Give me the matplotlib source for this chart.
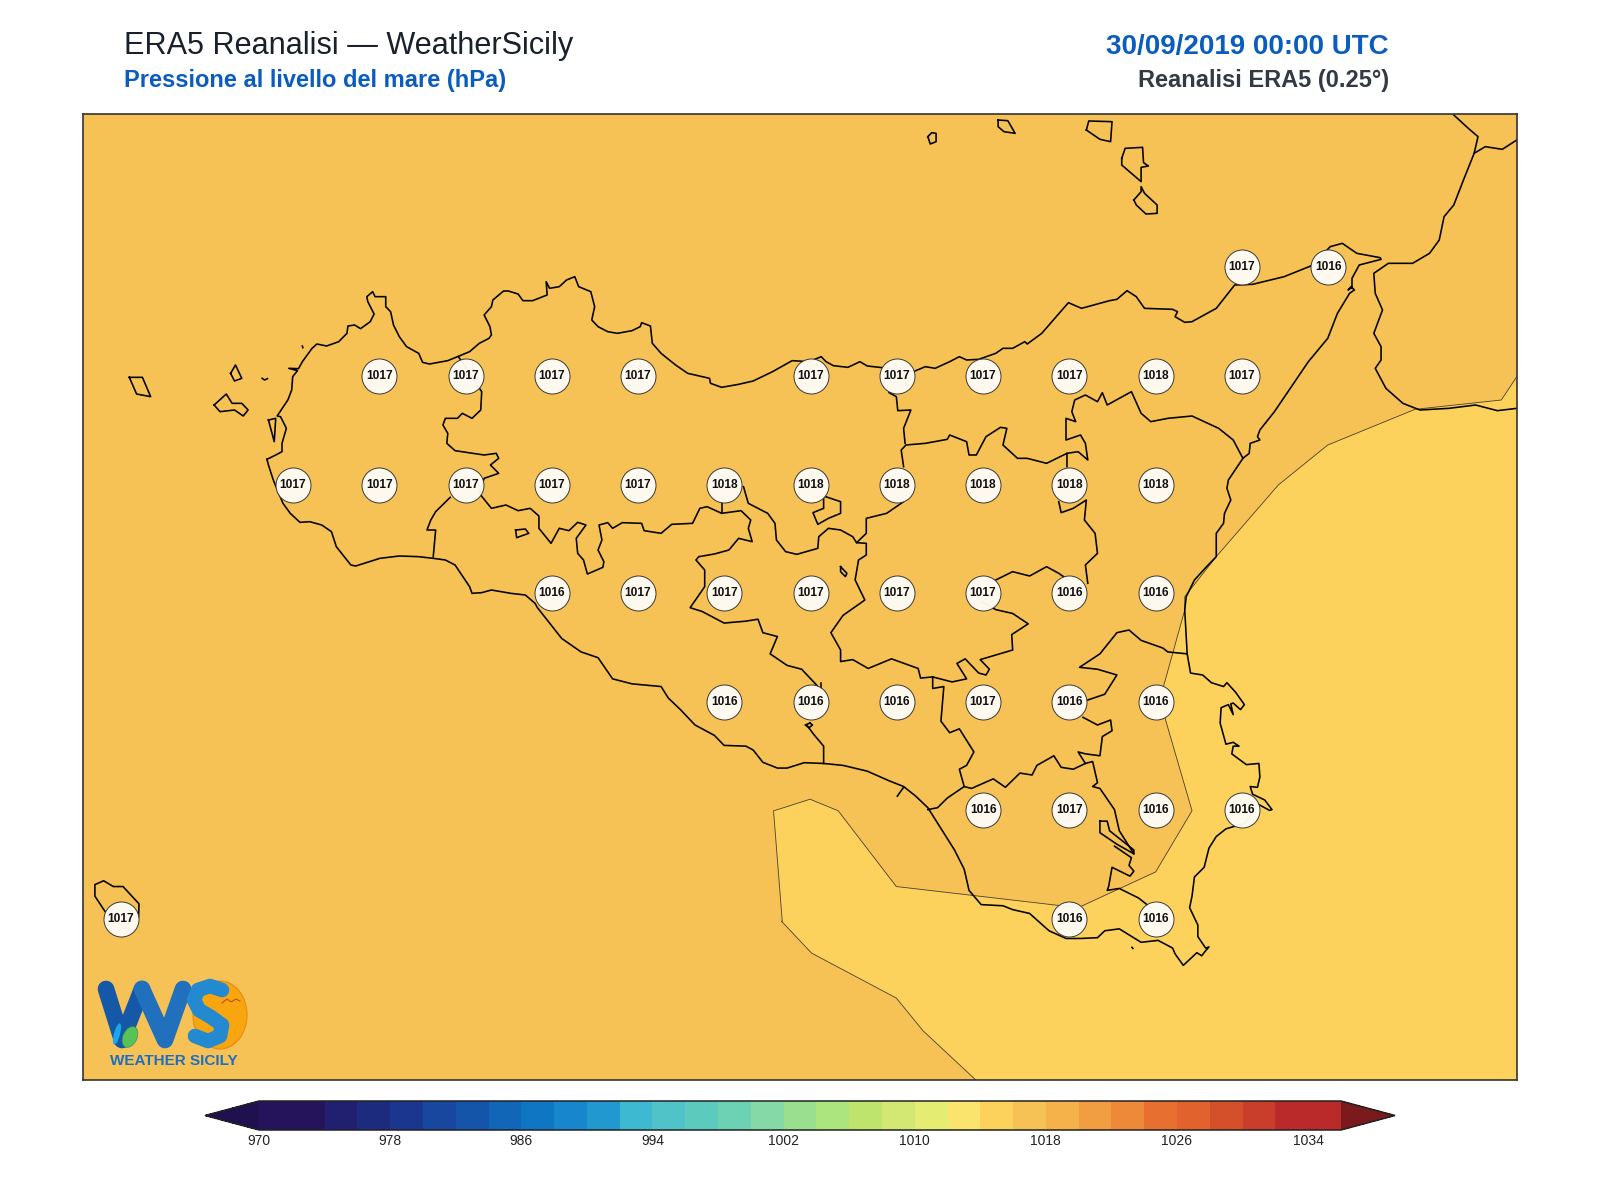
import numpy as np
import matplotlib
matplotlib.use("Agg")
import matplotlib.pyplot as plt
from matplotlib.colors import ListedColormap, BoundaryNorm
from matplotlib.cm import ScalarMappable
from matplotlib.patches import Ellipse, Polygon

plt.rcParams['font.family'] = ['Liberation Sans', 'DejaVu Sans']

# ---------- data ----------
LEVELS = list(range(970, 974, 2)) + list(range(974, 1038, 2))
CELL_COLORS = ['#25145C', '#25145C', '#211F70', '#1D2B7F', '#1A368F', '#17479F', '#1455A9', '#1166B7',
               '#0F76C4', '#1886CC', '#2199CF', '#3DBAD2', '#4FC3C8', '#5CCBBE', '#6DD2B4', '#85D9A6',
               '#99DF8F', '#ACE47D', '#BFE46E', '#D3E872', '#E4EC72', '#FBE46E', '#FCD15C', '#F6C155',
               '#F5B24B', '#F09E41', '#EC8A3A', '#E76F30', '#E1622C', '#D4502B', '#C83E2B', '#BB2A2A',
               '#BB2A2A']
UNDER_COLOR = '#1F1150'
OVER_COLOR = '#7A1A1D'
CBAR_TICKS = [970, 978, 986, 994, 1002, 1010, 1018, 1026, 1034]

BAND_BACKGROUND = 1017
BAND_EAST = 1015

ST_38_25 = ([15.25, 15.5], [1017, 1016])
ST_38_00 = ([12.75, 13.0, 13.25, 13.5, 14.0, 14.25, 14.5, 14.75, 15.0, 15.25],
            [1017, 1017, 1017, 1017, 1017, 1017, 1017, 1017, 1018, 1017])
ST_37_75 = ([12.5, 12.75, 13.0, 13.25, 13.5, 13.75, 14.0, 14.25, 14.5, 14.75, 15.0],
            [1017, 1017, 1017, 1017, 1017, 1018, 1018, 1018, 1018, 1018, 1018])
ST_37_50 = ([13.25, 13.5, 13.75, 14.0, 14.25, 14.5, 14.75, 15.0],
            [1016, 1017, 1017, 1017, 1017, 1017, 1016, 1016])
ST_37_25 = ([13.75, 14.0, 14.25, 14.5, 14.75, 15.0], [1016, 1016, 1016, 1017, 1016, 1016])
ST_37_00 = ([14.5, 14.75, 15.0, 15.25], [1016, 1017, 1016, 1016])
ST_36_75 = ([12.0, 14.75, 15.0], [1017, 1016, 1016])
STATION_ROWS = {38.25: ST_38_25, 38.0: ST_38_00, 37.75: ST_37_75, 37.5: ST_37_50,
                37.25: ST_37_25, 37.0: ST_37_00, 36.75: ST_36_75}

# Digitised outlines, in the pixel frames of the four sheets they were traced on.
SHEETS = {'A': (60, 90, 2.063, 3.0), 'B': (780, 90, 2.063, 3.0),
          'C': (60, 600, 2.063, 2.6), 'D': (780, 600, 2.063, 2.6)}

COAST_MAIN = [
 ('A', [(427,1108),(445,1095),(458,1085),(458,1060),(467,1015),(455,980),(448,978),(470,930),(478,900),(480,860),(490,842),(472,835),(492,836),(500,815),(520,775),(530,762),(550,768),(575,755),(592,730),(594,708),(608,705),(620,716),(640,695),(648,672),(635,635),(633,620),(645,605),(650,620),(672,620),(672,650),(682,665),(688,705),(700,740),(715,770),(740,790),(748,817),(762,822),(800,812),(845,785),(865,760),(885,745),(890,735),(887,710),(875,675),(890,650),(893,630),(915,603),(925,603),(945,612),(955,632),(975,632),(1005,615),(1003,575),(1010,595),(1030,590),(1045,570),(1062,560),(1070,590),(1095,605),(1103,650),(1097,690),(1110,710),(1130,725),(1150,730),(1180,722),(1197,710),(1200,698),(1218,708),(1222,760),(1240,790),(1270,825),(1295,850),(1340,865),(1342,880),(1365,892),(1400,883),(1430,873),(1470,845)]),
 ('B', [(25,812),(60,815),(85,800),(95,815),(110,827),(140,832),(165,815),(180,828),(205,832),(240,838),(275,845),(300,830),(320,835),(350,815),(370,800),(385,810),(410,808),(445,790),(460,775),(480,775),(505,755),(510,762),(540,730),(595,638),(622,655),(680,632),(695,628),(716,602),(735,620),(752,655),(810,658),(820,665),(815,680),(835,697),(850,695),(900,655),(938,585),(975,583),(1040,560),(1100,525),(1135,470),(1160,460),(1190,490),(1238,503),(1240,508),(1195,525),(1180,565),(1180,592),(1172,600),(1178,590),(1185,600),(1175,610),(1150,670),(1130,745),(1090,815),(1020,965),(990,1020),(985,1040),(990,1050),(970,1060),(968,1090),(955,1105),(925,1170),(922,1195),(930,1230),(917,1270),(915,1300),(900,1330),(900,1400),(880,1430),(855,1470),(838,1520),(835,1560)]),
 ('D', [(835,26),(840,140),(847,190),(872,195),(890,215),(915,225),(922,215),(940,240),(958,272),(950,285),(935,268),(930,270),(935,298),(925,272),(910,280),(908,320),(920,375),(935,370),(947,380),(935,380),(932,400),(962,428),(988,425),(990,460),(985,487),(970,485),(975,505),(1000,520),(1015,545),(1010,547),(985,530),(960,580),(920,595),(900,615),(885,645),(875,695),(855,720),(850,770),(845,800),(862,845),(862,875),(878,905),(885,902),(878,912),(870,925),(860,917),(832,950),(815,920),(810,905),(780,885),(745,890),(700,855),(670,860),(655,878),(620,880),(590,880),(555,860),(515,815),(480,805),(460,795),(415,792),(390,755),(380,700),(360,650),(340,610),(305,540),(280,510),(255,485),(225,470),(180,445),(130,430),(90,425),(50,423),(20,435)]),
 ('C', [(1500,437),(1480,437),(1450,422),(1430,390),(1415,380),(1370,378),(1350,352),(1310,325),(1280,285),(1255,255),(1240,225),(1215,222),(1180,218),(1155,210),(1140,205),(1110,150),(1075,135),(1035,100),(1010,60),(985,20)]),
 ('A', [(980,1540),(960,1515),(930,1510),(890,1500),(870,1508),(850,1510),(845,1490),(815,1425),(795,1410),(770,1405),(740,1400),(700,1398),(660,1405),(610,1428),(600,1425),(570,1370),(560,1325),(540,1305),(515,1295),(495,1297),(475,1270),(460,1240),(440,1170),(430,1125),(427,1108)]),
]

BOUNDARIES = [
 [('A', [(822,800),(870,905),(868,960),(850,985),(830,970),(820,985),(795,985),(790,1005),(800,1030),(798,1060),(815,1082),(875,1095),(900,1090),(905,1105),(888,1125),(905,1150),(875,1165),(865,1210),(890,1255),(920,1245),(945,1262),(970,1255),(988,1278),(988,1315),(1013,1360),(1030,1315),(1050,1322),(1068,1297),(1085,1305),(1065,1345),(1068,1390),(1080,1410),(1088,1452),(1120,1432),(1122,1415),(1110,1380),(1118,1350),(1112,1305),(1130,1298),(1140,1315),(1160,1298),(1200,1300),(1205,1322),(1240,1330),(1262,1303),(1305,1300),(1320,1255),(1335,1250),(1365,1270),(1405,1262),(1425,1290),(1420,1315),(1428,1355),(1400,1345),(1380,1380),(1350,1392),(1318,1400),(1312,1410),(1330,1440),(1330,1490)]),
  ('C', [(1300,20),(1325,30),(1370,60),(1415,55),(1440,50),(1450,85),(1480,95),(1465,140),(1500,170),(1530,180),(1560,220)]),
  ('D', [(85,235)])],
 [('A', [(805,1222),(775,1265),(765,1290),(757,1320),(775,1320),(770,1400)])],
 [('A', [(1365,1270),(1365,1240)])],
 [('A', [(1410,1190),(1420,1240),(1460,1270),(1475,1300),(1478,1350),(1497,1385),(1520,1393)]),
  ('B', [(78,1375),(80,1340),(100,1315),(125,1320),(150,1340),(158,1358),(178,1360),(178,1395),(162,1410),(155,1470),(175,1530)]),
  ('D', [(175,0),(130,40),(105,85),(125,130),(125,160),(150,155),(182,178),(230,153),(285,178),(290,203),(315,200),(355,213),(385,205),(365,165),(382,153),(410,190),(425,195),(432,180),(413,155),(480,130),(478,90),(512,62),(480,35),(445,25),(418,5)])],
 [('B', [(90,1218),(125,1235),(125,1270),(100,1285),(78,1303),(68,1268),(90,1255),(90,1218)])],
 [('B', [(255,1235),(220,1270),(178,1285),(178,1330),(158,1358)])],
 [('B', [(445,1470),(480,1445),(515,1458),(550,1430),(575,1450),(595,1470)])],
 [('B', [(575,1235),(580,1268),(605,1255),(632,1230),(628,1290),(650,1330),(655,1390),(630,1425),(635,1480)])],
 [('B', [(592,1130),(592,1090),(550,1120),(510,1105),(490,1105),(460,1065),(468,1015),(455,1012),(425,1040),(405,1095),(390,1095),(385,1055),(350,1035),(345,1048),(300,1060),(260,1065),(250,1080),(255,1130)])],
 [('B', [(258,1060),(255,1015),(270,960),(243,962),(240,920),(225,908)])],
 [('B', [(592,1090),(615,1085),(635,1110),(630,1060),(620,1035),(590,1050),(590,985),(610,995),(602,965),(608,930),(630,915),(655,935),(665,908),(675,945),(725,905),(745,970),(765,995),(800,985),(850,978),(905,1015),(935,1050),(955,1105)])],
 [('D', [(315,200),(315,230),(338,225),(332,315),(350,345),(370,335),(400,395),(385,430),(370,440),(380,485),(345,515),(325,540),(305,545)])],
 [('D', [(380,485),(395,490),(440,465),(465,487),(495,450),(520,455),(530,430),(565,405),(580,435),(605,440),(630,425),(615,395),(630,400),(660,405),(665,355),(685,340),(682,312),(655,325),(625,305)])],
 [('D', [(635,260),(670,245),(695,195),(655,180),(618,175),(660,140),(695,85),(720,78),(745,105),(790,125),(800,135),(840,140)])],
 [('D', [(630,425),(645,420),(655,475),(645,485),(660,490),(690,545),(700,600),(730,660)])],
 [('D', [(660,575),(675,575),(680,600),(730,650),(730,660),(695,635),(660,605),(660,575)])],
 [('D', [(690,640),(725,670),(720,690),(730,705),(722,718),(685,695),(678,745),(675,755),(700,750),(740,775),(765,800)])],
 [('D', [(55,325),(70,350),(90,380),(90,425)])],
 [('D', [(62,320),(52,325),(60,332),(67,325),(62,320)])],
 [('D', [(242,510),(255,487)])],
 [('D', [(85,215),(85,235)])],
 [('B', [(125,1430),(138,1450),(135,1460),(125,1445),(125,1430)])],
]

ISLANDS = [
 ('A', [(143,862),(170,862),(187,920),(158,912),(143,862)]),
 ('A', [(352,850),(362,825),(375,865),(360,873),(352,850)]),
 ('A', [(318,945),(343,912),(355,940),(375,940),(388,960),(378,978),(360,960),(330,965),(318,945)]),
 ('A', [(417,865),(422,870),(428,866)]),
 ('A', [(500,768),(501,773)]),
 ('A', [(430,990),(445,985),(442,1055),(430,990)]),
 ('A', [(940,1320),(960,1317),(967,1330),(942,1343),(940,1320)]),
 ('B', [(305,140),(313,128),(322,130),(322,155),(310,162),(305,140)]),
 ('B', [(450,90),(470,92),(485,130),(462,125),(450,110),(450,90)]),
 ('B', [(632,120),(637,93),(685,95),(682,155),(660,148),(632,120)]),
 ('B', [(705,205),(712,175),(748,172),(750,218),(760,228),(745,232),(745,275),(725,250),(705,225),(705,205)]),
 ('B', [(730,330),(745,305),(745,290),(752,310),(778,345),(778,370),(755,372),(735,345),(730,330)]),
 ('C', [(93,810),(72,770),(72,740),(90,730),(110,745),(130,745),(163,790),(162,825)]),
 ('D', [(726,903),(728,906)]),
]

CALABRIA = [
 [('B', [(1390,75),(1420,115),(1440,140),(1432,190),(1410,270),(1390,345),(1370,380),(1360,450),(1340,490),(1305,520),(1285,520),(1255,520),(1225,550),(1228,610),(1243,660),(1225,730),(1240,770),(1240,810),(1228,835),(1250,895),(1285,940),(1320,960),(1380,955),(1435,945),(1480,962),(1520,955)])],
 [('B', [(1432,190),(1455,170),(1490,178),(1520,150)])],
]

EAST_BAND_EDGE = [
 ('B', [(1520,860),(1488,930),(1310,958),(1130,1065),(1028,1185),(900,1400),(835,1520)]),
 ('D', [(835,26),(790,230),(795,310),(850,548),(775,707),(615,800),(240,745),(120,548),(62,518),(0,543)]),
 ('C', [(1472,548),(1490,835)]),
 ('D', [(3,835),(65,918),(240,1035),(295,1120),(410,1255)]),
]

# map extent
LON_PER_PX = 1 / 345.0
LAT_PER_PX = 1 / 434.4
def px_to_lon(px): return 12.75 + (px - 379.3) * LON_PER_PX
def py_to_lat(py): return 38.0 - (py - 375.9) * LAT_PER_PX

def to_lonlat(chain):
    out = []
    for sheet, pts in chain:
        x0, y0, sx, sy = SHEETS[sheet]
        for X, Y in pts:
            out.append((px_to_lon(x0 + X / sx), py_to_lat(y0 + Y / sy)))
    return np.array(out)

# ---------- figure ----------
W, H = 1600, 1200
fig = plt.figure(figsize=(W / 100, H / 100), dpi=100, facecolor='white')
FL, FR, FT, FB = 83, 1517, 114, 1080
ax = fig.add_axes([FL / W, 1 - FB / H, (FR - FL) / W, (FB - FT) / H])
ax.set_xlim(px_to_lon(FL), px_to_lon(FR))
ax.set_ylim(py_to_lat(FB), py_to_lat(FT))
ax.set_xticks([]); ax.set_yticks([])
for s in ax.spines.values():
    s.set_linewidth(1.2); s.set_color('#333333'); s.set_zorder(20)

cmap = ListedColormap(CELL_COLORS)
cmap.set_under(UNDER_COLOR); cmap.set_over(OVER_COLOR)
norm = BoundaryNorm(LEVELS, cmap.N)
ax.set_facecolor(cmap(norm(BAND_BACKGROUND)))

edge = to_lonlat(EAST_BAND_EDGE)
xmax, ymin = ax.get_xlim()[1], ax.get_ylim()[0]
poly = np.vstack([edge, [[xmax, ymin]]])
ax.add_patch(Polygon(poly, closed=True, facecolor=cmap(norm(BAND_EAST)), edgecolor='none', zorder=1))
ax.plot(edge[:, 0], edge[:, 1], color='#4a4030', lw=0.6, zorder=2)

lkw = dict(color='black', lw=1.15, zorder=3, solid_joinstyle='round')
c = to_lonlat(COAST_MAIN); ax.plot(c[:, 0], c[:, 1], **lkw)
for chain in BOUNDARIES + CALABRIA:
    c = to_lonlat(chain); ax.plot(c[:, 0], c[:, 1], **lkw)
for isl in ISLANDS:
    c = to_lonlat([isl]); ax.plot(c[:, 0], c[:, 1], **lkw)

for lat, (lons, vals) in STATION_ROWS.items():
    ax.scatter(lons, [lat] * len(lons), s=635, facecolor='#FFFCF6', edgecolor='#333333',
               linewidth=0.7, alpha=0.96, zorder=6)
    for lon, v in zip(lons, vals):
        ax.text(lon, lat, str(v), ha='center', va='center', fontsize=8.6, fontweight='bold',
                color='#111111', zorder=7)

# ---------- colour bar ----------
cax = fig.add_axes([205 / W, 1 - 1130 / H, (1395 - 205) / W, 29 / H])
cb = fig.colorbar(ScalarMappable(norm=norm, cmap=cmap), cax=cax, orientation='horizontal',
                  extend='both', extendfrac=0.05, ticks=CBAR_TICKS, spacing='proportional',
                  drawedges=False)
cb.ax.minorticks_off()
cb.ax.tick_params(which='both', length=0, pad=3, labelsize=10, labelcolor='#222222')
cb.outline.set_linewidth(1.1); cb.outline.set_edgecolor('#222222')

# ---------- titles ----------
def ftext(px, py, s, **k):
    fig.text(px / W, 1 - py / H, s, **k)
ftext(124, 46, 'ERA5 Reanalisi \u2014 WeatherSicily', fontsize=22.1, color='#1a202c', va='center', ha='left')
ftext(124, 81, 'Pressione al livello del mare (hPa)', fontsize=17, fontweight='bold', color='#0B5CBF', va='center', ha='left')
ftext(1389, 47, '30/09/2019 00:00 UTC', fontsize=20, fontweight='bold', color='#0B5CBF', va='center', ha='right')
ftext(1389, 81, 'Reanalisi ERA5 (0.25\u00b0)', fontsize=17, fontweight='bold', color='#333a45', va='center', ha='right')

# ---------- logo (a picture in the reference: drawn with strokes) ----------
LOGO_W_LEFT = ([106, 122, 142], [989, 1040, 989])
LOGO_W_RIGHT = ([142, 165, 183], [989, 1040, 989])
LOGO_S = ([222, 210, 198, 194, 199, 211, 222, 220, 208, 195], [990, 986, 990, 1000, 1010, 1017, 1025, 1036, 1041, 1036])
LOGO_BIRD = ([222, 227, 231, 236, 240], [1003, 999, 1002, 999, 1001])

lg = fig.add_axes([0, 0, 1, 1], facecolor='none')
lg.set_xlim(0, W); lg.set_ylim(H, 0); lg.axis('off'); lg.set_zorder(10)
lg.add_patch(Ellipse((220, 1015), 54, 68, facecolor='#F7A60F', edgecolor='#E98A10', lw=0.8, zorder=1))
stroke = dict(solid_capstyle='round', solid_joinstyle='round', zorder=3)
lg.plot(*LOGO_W_LEFT, color='#1658A8', lw=12, **stroke)
lg.plot(*LOGO_W_RIGHT, color='#2070BE', lw=12, **stroke)
lg.plot(*LOGO_S, color='#2389D0', lw=10.5, **stroke)
lg.plot(*LOGO_BIRD, color='#C0501A', lw=0.8, zorder=4)
lg.add_patch(Ellipse((130, 1037), 14, 22, angle=25, facecolor='#57C255', edgecolor='#2E8B57', lw=0.4, zorder=5))
lg.add_patch(Ellipse((117, 1034), 6, 22, angle=15, facecolor='#1BA8E8', edgecolor='none', zorder=4))
lg.text(173.5, 1061, 'WEATHER SICILY', fontsize=11, fontweight='bold', color='#1F6FC0', ha='center', va='center')

fig.savefig('out.png', dpi=100)
